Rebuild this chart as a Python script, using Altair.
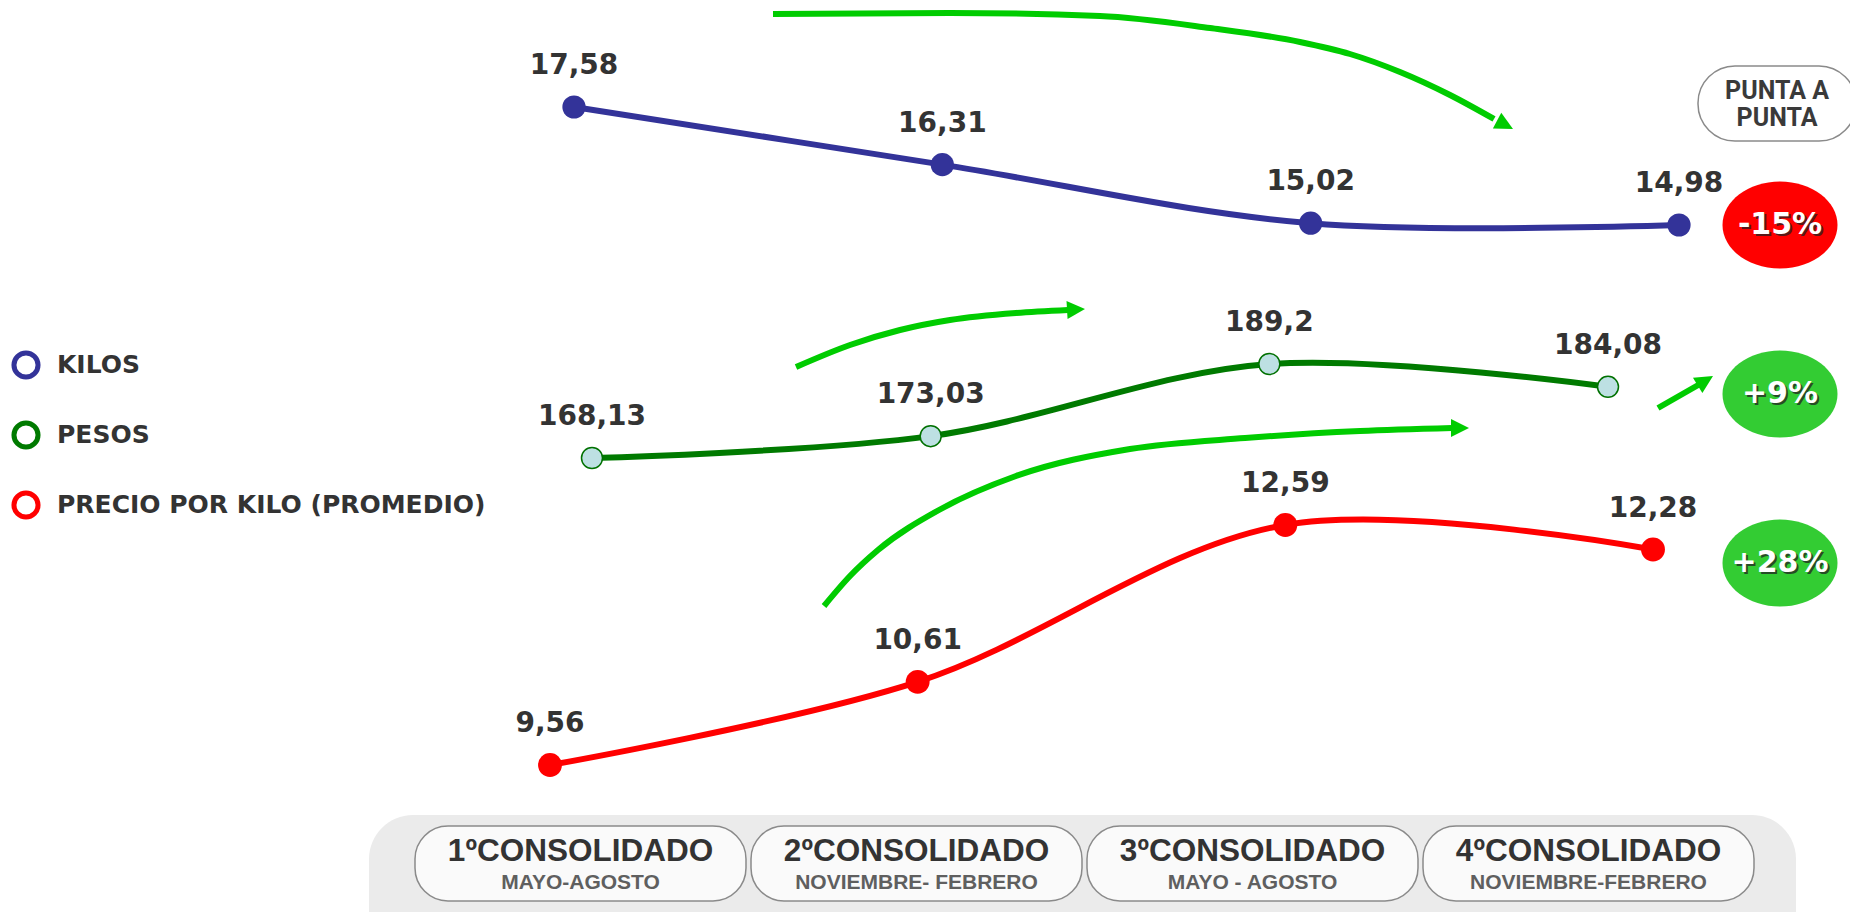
import math

import altair as alt
import pandas as pd

W, H = 1850, 912

# ---- data -------------------------------------------------------------
periods = ["1ºCONSOLIDADO", "2ºCONSOLIDADO", "3ºCONSOLIDADO", "4ºCONSOLIDADO"]
period_months = ["MAYO-AGOSTO", "NOVIEMBRE- FEBRERO", "MAYO - AGOSTO", "NOVIEMBRE-FEBRERO"]

series_names = ["KILOS", "PESOS", "PRECIO POR KILO (PROMEDIO)"]
kilos = [17.58, 16.31, 15.02, 14.98]
pesos = [168.13, 173.03, 189.2, 184.08]
precio = [9.56, 10.61, 12.59, 12.28]

series_colors = ["#333399", "#007a00", "#ff0000"]
change_colors = ["#ff0000", "#33cc33", "#33cc33"]

# decorative trend arrows, drawn in canvas pixels (path points, then tip)
arrow_paths = [
    [(773, 14), (950, 13), (1100, 16), (1210, 28), (1300, 42), (1350, 54), (1400, 72), (1450, 95), (1494, 119)],
    [(796, 367), (850, 345), (900, 330), (950, 320), (1016, 313), (1068, 310)],
    [(824, 606), (850, 576), (878, 550), (939, 510), (1016, 476), (1130, 449), (1245, 438), (1360, 431), (1452, 428)],
    [(1658, 408), (1700, 384)],
]
arrow_tips = [(1513, 129), (1085, 309), (1469, 428), (1713, 376)]


def fmt(v):
    return f"{v:g}".replace(".", ",")


def pct_change(vals):
    p = round((vals[-1] / vals[0] - 1) * 100)
    return f"{p:+d}%"


FONT = "DejaVu Sans"
TXT = "#333333"

# ---- bottom period pills ---------------------------------------------
dummy = pd.DataFrame({"k": [0]})

band = alt.Chart(dummy).mark_rect(color="#ebebeb", cornerRadius=44).encode(
    x=alt.value(369), x2=alt.value(1796), y=alt.value(815), y2=alt.value(960)
)

periods_df = pd.DataFrame({"periodo": periods, "meses": period_months})
px = alt.X(
    "periodo:N",
    sort=periods,
    scale=alt.Scale(type="band", domain=periods, range=[415, 1754], paddingInner=0.0149, paddingOuter=0),
    axis=None,
)
pill_base = alt.Chart(periods_df).encode(x=px)
pills = pill_base.mark_rect(
    fill="#fafafa", stroke="#8a8a8a", strokeWidth=1.5, cornerRadius=33
).encode(y=alt.value(826), y2=alt.value(901))
pill_titles = pill_base.mark_text(
    font="Liberation Sans", fontWeight="bold", fontSize=31.5, color=TXT, baseline="middle"
).encode(y=alt.value(852), text="periodo:N")
pill_months = pill_base.mark_text(
    font="Liberation Sans", fontWeight="bold", fontSize=21, color="#5f5f5f", baseline="middle"
).encode(y=alt.value(883), text="meses:N")
period_layer = alt.layer(pills, pill_titles, pill_months)

# ---- arrows -------------------------------------------------------------
pxs = alt.Scale(domain=[0, W], range=[0, W], zero=False, nice=False)
pys = alt.Scale(domain=[0, H], range=[0, H], zero=False, nice=False)

rows = []
heads = []
HEAD = 9.0
for i, (path, tip) in enumerate(zip(arrow_paths, arrow_tips)):
    for j, (x, y) in enumerate(path):
        rows.append({"flecha": i, "orden": j, "px": x, "py": y})
    lx, ly = path[-1]
    ang = math.atan2(tip[1] - ly, tip[0] - lx)
    heads.append({
        "px": tip[0] - HEAD * math.cos(ang),
        "py": tip[1] - HEAD * math.sin(ang),
        "ang": math.degrees(ang) % 360,
    })
arrows_df = pd.DataFrame(rows)
heads_df = pd.DataFrame(heads)

arrow_lines = alt.Chart(arrows_df).mark_line(
    color="#00cc00", strokeWidth=6, interpolate="monotone"
).encode(
    x=alt.X("px:Q", scale=pxs, axis=None),
    y=alt.Y("py:Q", scale=pys, axis=None),
    detail="flecha:N",
    order="orden:Q",
)
arrow_heads = alt.Chart(heads_df).mark_point(
    shape="M-1,-1L1,0L-1,1Z", filled=True, size=(2 * HEAD) ** 2, color="#00cc00", opacity=1
).encode(
    x=alt.X("px:Q", scale=pxs, axis=None),
    y=alt.Y("py:Q", scale=pys, axis=None),
    angle=alt.Angle("ang:Q", scale=None),
)
arrow_layer = alt.layer(arrow_lines, arrow_heads)


# ---- series -------------------------------------------------------------
def series_layer(values, line_color, fill, stroke, stroke_w, size, x_range, y_range):
    df = pd.DataFrame({"periodo": periods, "valor": values, "etiqueta": [fmt(v) for v in values]})
    x = alt.X(
        "periodo:N", sort=periods,
        scale=alt.Scale(type="point", domain=periods, range=x_range, padding=0), axis=None,
    )
    y = alt.Y(
        "valor:Q",
        scale=alt.Scale(domain=[min(values), max(values)], range=y_range, zero=False, nice=False),
        axis=None,
    )
    base = alt.Chart(df).encode(x=x, y=y)
    line = base.mark_line(color=line_color, strokeWidth=6, interpolate="catmull-rom")
    pts = base.mark_point(
        filled=True, fill=fill, stroke=stroke, strokeWidth=stroke_w, size=size, opacity=1
    )
    labels = base.mark_text(
        font=FONT, fontWeight="bold", fontSize=28, color=TXT, baseline="alphabetic", dy=-33
    ).encode(text="etiqueta:N")
    return alt.layer(line, pts, labels)


kilos_layer = series_layer(kilos, "#333399", "#333399", "#333399", 0, 540, [574, 1679], [225, 107])
pesos_layer = series_layer(pesos, "#007a00", "#bde0e3", "#007000", 1.5, 440, [592, 1608], [458, 364])
precio_layer = series_layer(precio, "#ff0000", "#ff0000", "#ff0000", 0, 570, [550, 1653], [765, 525])

# ---- legend ---------------------------------------------------------------
legend_df = pd.DataFrame({"nombre": series_names})
ly = alt.Y(
    "nombre:N", sort=series_names,
    scale=alt.Scale(type="point", domain=series_names, range=[365, 505], padding=0), axis=None,
)
legend_rings = alt.Chart(legend_df).mark_point(
    shape="circle", filled=False, size=580, strokeWidth=5, opacity=1
).encode(
    x=alt.value(26), y=ly,
    stroke=alt.Stroke("nombre:N", scale=alt.Scale(domain=series_names, range=series_colors), legend=None),
)
legend_text = alt.Chart(legend_df).mark_text(
    font=FONT, fontWeight="bold", fontSize=25, color=TXT, align="left", baseline="middle"
).encode(x=alt.value(57), y=ly, text="nombre:N")
legend_layer = alt.layer(legend_rings, legend_text)

# ---- end-to-end change -------------------------------------------------------
punta_box = alt.Chart(dummy).mark_rect(
    fill="white", stroke="#8a8a8a", strokeWidth=1.5, cornerRadius=37
).encode(x=alt.value(1698), x2=alt.value(1856), y=alt.value(66), y2=alt.value(141))
punta_text = alt.Chart(dummy).mark_text(
    text="PUNTA A\nPUNTA", lineBreak="\n", lineHeight=27, font="Roboto", fontWeight="bold",
    fontSize=25, color="#3a3a3a", align="center", baseline="middle",
).encode(x=alt.value(1777), y=alt.value(91))

change_df = pd.DataFrame({
    "nombre": series_names,
    "cambio": [pct_change(kilos), pct_change(pesos), pct_change(precio)],
})
cy = alt.Y(
    "nombre:N", sort=series_names,
    scale=alt.Scale(type="point", domain=series_names, range=[225, 563], padding=0), axis=None,
)
ellipse_path = (
    "M-1,0C-1,-0.418 -0.552,-0.757 0,-0.757C0.552,-0.757 1,-0.418 1,0"
    "C1,0.418 0.552,0.757 0,0.757C-0.552,0.757 -1,0.418 -1,0Z"
)
change_base = alt.Chart(change_df).encode(x=alt.value(1780), y=cy)
ellipses = change_base.mark_point(shape=ellipse_path, filled=True, size=115 ** 2, opacity=1).encode(
    fill=alt.Fill("nombre:N", scale=alt.Scale(domain=series_names, range=change_colors), legend=None)
)
shadow = change_base.mark_text(
    font=FONT, fontWeight="bold", fontSize=30, color="#222222", opacity=0.75,
    baseline="middle", dx=2, dy=2,
).encode(text="cambio:N")
pct_text = change_base.mark_text(
    font=FONT, fontWeight="bold", fontSize=30, color="white", baseline="middle"
).encode(text="cambio:N")
change_layer = alt.layer(ellipses, shadow, pct_text)

chart = (
    alt.layer(
        band, period_layer, arrow_layer, kilos_layer, pesos_layer, precio_layer,
        legend_layer, punta_box, punta_text, change_layer,
    )
    .resolve_scale(x="independent", y="independent", stroke="independent", fill="independent")
    .properties(width=W, height=H, autosize=alt.AutoSizeParams(type="none"), padding=0, background="white")
    .configure_view(stroke=None)
)

chart.save("out.html", embed_options={"renderer": "svg", "actions": False})
